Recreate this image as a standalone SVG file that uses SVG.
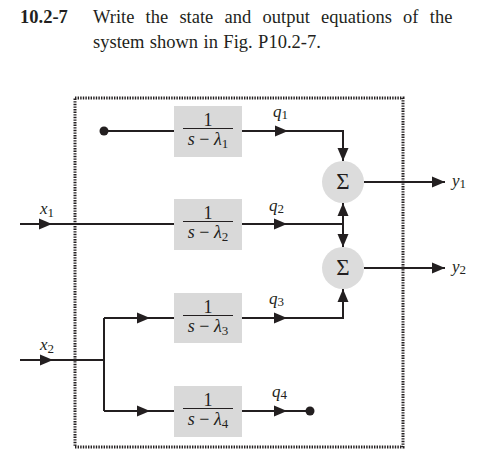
<svg xmlns="http://www.w3.org/2000/svg" width="477" height="456" viewBox="0 0 477 456" font-family="Liberation Serif, Times New Roman, serif">
<defs>
<style>
text{fill:#231f20}
.i{font-style:italic}
.ln{stroke:#231f20;stroke-width:2;fill:none}
.blk{fill:#d9d9d9}
.sum{fill:#dcdcdc}
.fr{stroke:#231f20;stroke-width:1.2}
.bd{stroke:#231f20;stroke-width:3;stroke-dasharray:1.4 1.2;fill:none}
</style>
<path id="ar" d="M0,0 L-13,-5.5 L-13,5.5 Z" fill="#231f20"/>
</defs>
<rect width="477" height="456" fill="#fff"/>
<g id="title">
<text x="20" y="23" font-size="18.5" font-weight="bold">10.2-7</text>
<text x="93" y="23" font-size="18.5" word-spacing="6.6">Write the state and output equations of the</text>
<text x="93" y="48" font-size="18.5" word-spacing="0.8">system shown in Fig. P10.2-7.</text>
</g>
<g id="boundary">
<rect class="bd" x="75" y="98" width="328" height="349"/>
</g>
<g id="connectors">
<circle cx="104" cy="131" r="4.5" fill="#231f20"/>
<path class="ln" d="M104,131 H174"/>
<path class="ln" d="M242,131 H343 V161"/>
<use href="#ar" x="288" y="131"/>
<use href="#ar" transform="translate(343,161) rotate(90)"/>
<path class="ln" d="M20,224 H174"/>
<use href="#ar" x="52" y="224"/>
<path class="ln" d="M242,224 H343"/>
<use href="#ar" x="287" y="224"/>
<path class="ln" d="M343,203 V247"/>
<use href="#ar" transform="translate(343,203) rotate(-90)"/>
<use href="#ar" transform="translate(343,247) rotate(90)"/>
<path class="ln" d="M20,360 H104"/>
<use href="#ar" x="53" y="360"/>
<path class="ln" d="M104,318 V411"/>
<path class="ln" d="M104,318 H174"/>
<use href="#ar" x="150" y="318"/>
<path class="ln" d="M104,411 H174"/>
<use href="#ar" x="150" y="411"/>
<path class="ln" d="M242,318 H343 V289"/>
<use href="#ar" x="287" y="318"/>
<use href="#ar" transform="translate(343,289) rotate(-90)"/>
<path class="ln" d="M242,411 H310"/>
<use href="#ar" x="287" y="411"/>
<circle cx="310" cy="411" r="4.5" fill="#231f20"/>
<path class="ln" d="M364,182 H445"/>
<use href="#ar" x="445" y="182"/>
<path class="ln" d="M364,268 H445"/>
<use href="#ar" x="445" y="268"/>
</g>
<g id="block1">
<rect class="blk" x="174" y="106" width="68" height="51"/>
<text x="208" y="126" font-size="18" text-anchor="middle">1</text>
<line class="fr" x1="183" y1="128.5" x2="233" y2="128.5"/>
<text x="208" y="145" font-size="18" text-anchor="middle"><tspan class="i">s</tspan> − <tspan class="i">λ</tspan><tspan font-size="13" dy="3">1</tspan></text>
</g>
<g id="block2">
<rect class="blk" x="174" y="199" width="68" height="51"/>
<text x="208" y="219" font-size="18" text-anchor="middle">1</text>
<line class="fr" x1="183" y1="221.5" x2="233" y2="221.5"/>
<text x="208" y="238" font-size="18" text-anchor="middle"><tspan class="i">s</tspan> − <tspan class="i">λ</tspan><tspan font-size="13" dy="3">2</tspan></text>
</g>
<g id="block3">
<rect class="blk" x="174" y="293" width="68" height="50"/>
<text x="208" y="313" font-size="18" text-anchor="middle">1</text>
<line class="fr" x1="183" y1="315.5" x2="233" y2="315.5"/>
<text x="208" y="332" font-size="18" text-anchor="middle"><tspan class="i">s</tspan> − <tspan class="i">λ</tspan><tspan font-size="13" dy="3">3</tspan></text>
</g>
<g id="block4">
<rect class="blk" x="174" y="386" width="68" height="51"/>
<text x="208" y="406" font-size="18" text-anchor="middle">1</text>
<line class="fr" x1="183" y1="408.5" x2="233" y2="408.5"/>
<text x="208" y="425" font-size="18" text-anchor="middle"><tspan class="i">s</tspan> − <tspan class="i">λ</tspan><tspan font-size="13" dy="3">4</tspan></text>
</g>
<g id="sum1">
<circle class="sum" cx="343" cy="182" r="21"/>
<text x="343" y="189" font-size="23" text-anchor="middle">Σ</text>
</g>
<g id="sum2">
<circle class="sum" cx="343" cy="268" r="21"/>
<text x="343" y="275" font-size="23" text-anchor="middle">Σ</text>
</g>
<g id="labels" font-size="17">
<text class="i" x="273" y="117">q<tspan font-size="13" font-style="normal" dy="2">1</tspan></text>
<text class="i" x="269" y="211">q<tspan font-size="13" font-style="normal" dy="2">2</tspan></text>
<text class="i" x="269" y="304">q<tspan font-size="13" font-style="normal" dy="2">3</tspan></text>
<text class="i" x="272" y="397">q<tspan font-size="13" font-style="normal" dy="2">4</tspan></text>
<text class="i" x="40" y="214">x<tspan font-size="13" font-style="normal" dy="3">1</tspan></text>
<text class="i" x="40" y="350">x<tspan font-size="13" font-style="normal" dy="3">2</tspan></text>
<text class="i" x="452" y="186">y<tspan font-size="13" font-style="normal" dy="2">1</tspan></text>
<text class="i" x="452" y="272">y<tspan font-size="13" font-style="normal" dy="2">2</tspan></text>
</g>
</svg>
